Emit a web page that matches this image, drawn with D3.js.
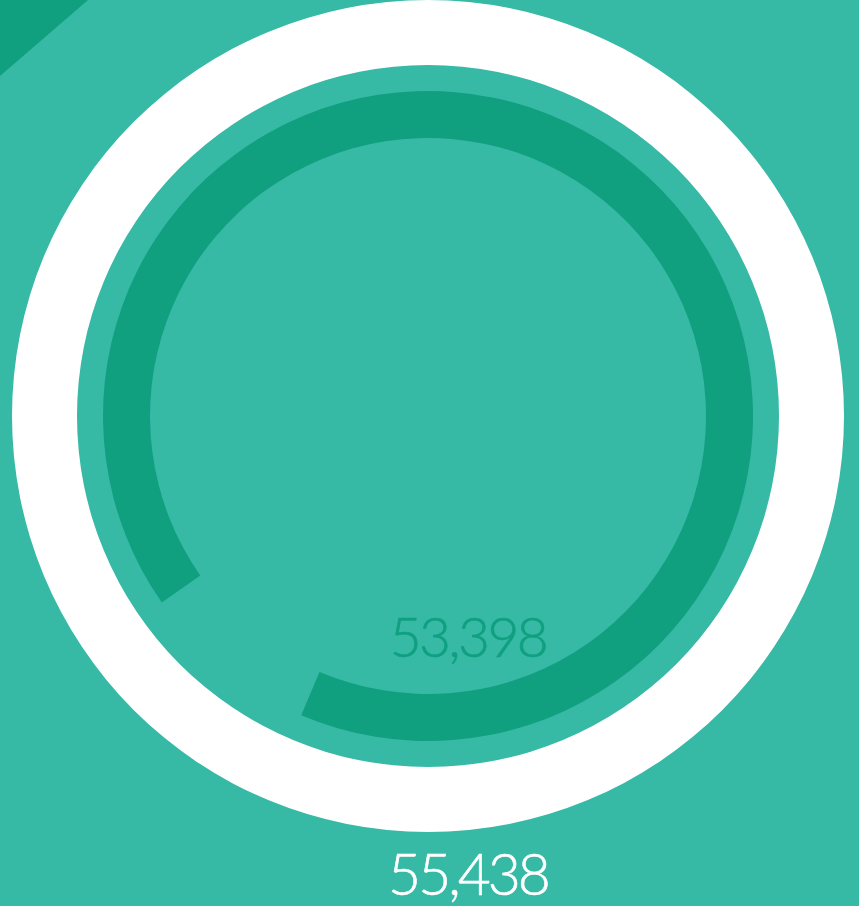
<!DOCTYPE html>
<html>
<head>
<meta charset="utf-8">
<script src="https://cdn.jsdelivr.net/npm/d3@7"></script>
<style>
  html, body { margin: 0; padding: 0; background: #36b9a5; overflow: hidden; }
</style>
</head>
<body>
<div id="chart"></div>
<script>
// values
var totalValue = 55438;
var currentValue = 53398;
var valueLabels = ["53,398", "55,438"];

// colours
var bgColor = "#36b9a5",
    darkColor = "#10a080",
    ringColor = "#ffffff";

var width = 859, height = 906;
var cx = 428, cy = 416;

var svg = d3.select("#chart").append("svg")
    .attr("width", width)
    .attr("height", height);

svg.append("rect")
    .attr("width", width)
    .attr("height", height)
    .attr("fill", bgColor);

// corner ribbon
svg.append("path")
    .attr("d", "M0,0 L88,0 L0,76 Z")
    .attr("fill", darkColor);

var g = svg.append("g")
    .attr("transform", "translate(" + cx + "," + cy + ")");

// total ring (white, full circle)
var ringArc = d3.arc()
    .innerRadius(351)
    .outerRadius(416)
    .startAngle(0)
    .endAngle(2 * Math.PI);

g.append("path")
    .attr("d", ringArc())
    .attr("fill", ringColor);

// gauge arc for current value
var startDeg = 235, sweepDeg = 340.5;
var angle = d3.scaleLinear()
    .domain([0, totalValue])
    .range([startDeg * Math.PI / 180, (startDeg + sweepDeg) * Math.PI / 180]);

var valueArc = d3.arc()
    .innerRadius(278)
    .outerRadius(325);

g.append("path")
    .attr("d", valueArc({startAngle: angle(0), endAngle: angle(currentValue)}))
    .attr("fill", darkColor);

// labels
function label(txt, y, size, color, spacing) {
  svg.append("text")
      .attr("x", 468)
      .attr("y", y)
      .attr("text-anchor", "middle")
      .style("font-family", "Lato, 'Open Sans', sans-serif")
      .style("font-weight", 300)
      .style("font-size", size + "px")
      .style("letter-spacing", spacing + "px")
      .style("stroke", color)
      .style("stroke-width", 0.6)
      .attr("fill", color)
      .text(txt);
}

label(valueLabels[0], 657, 55, darkColor, -2.5);
label(valueLabels[1], 895, 57, ringColor, -3);
</script>
</body>
</html>
